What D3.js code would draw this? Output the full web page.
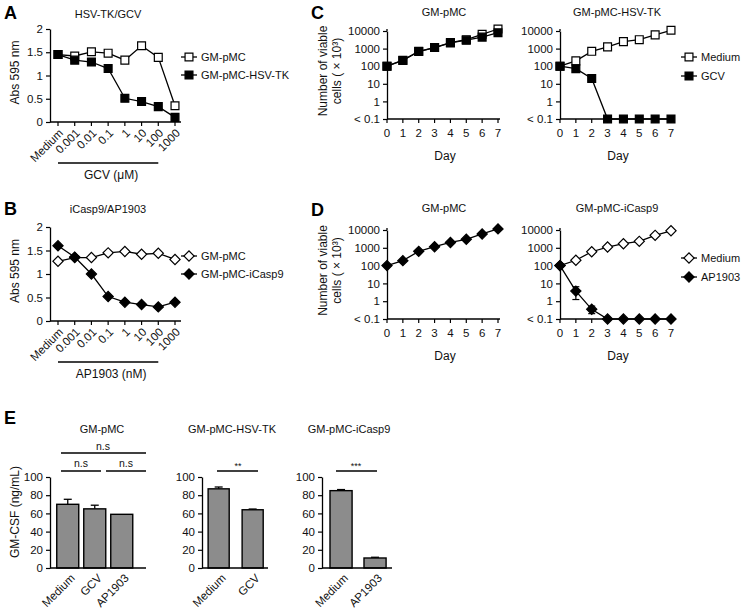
<!DOCTYPE html>
<html><head><meta charset="utf-8">
<script src="https://cdn.jsdelivr.net/npm/d3@7"></script>
<style>body{margin:0;background:#fff}</style>
</head><body><script>
// ---------------- DATA ----------------
const doseLabels = ["Medium","0.001","0.01","0.1","1","10","100","1000"];
const aPMC  = [1.45,1.42,1.51,1.48,1.33,1.64,1.39,0.35];
const aTK   = [1.45,1.33,1.29,1.15,0.51,0.44,0.33,0.10];
const bPMC  = [1.27,1.35,1.35,1.45,1.48,1.42,1.44,1.31];
const bIC9  = [1.60,1.36,1.00,0.52,0.40,0.35,0.30,0.40];
const absTicks = [0,0.5,1,1.5,2];

const days = [0,1,2,3,4,5,6,7];
const logTicks = [0.1,1,10,100,1000,10000];
const cPMCMedium = [100,220,700,1150,2200,3200,6500,13000];
const cPMCGCV    = [100,210,680,1150,2100,3000,4500,8000];
const cTKMedium  = [100,200,700,1250,2500,3200,6000,11000];
const cTKGCV     = [100,72,20,0.1,0.1,0.1,0.1,0.1];
const dPMC       = [100,190,630,1150,2000,3000,6000,11500];
const dIC9Medium = [100,200,600,1100,1700,2300,5000,9000];
const dIC9AP     = [100,3.7,0.35,0.1,0.1,0.1,0.1,0.1];
const dIC9APlo   = [null,1.24,0.2,null,null,null,null,null];
const dIC9APhi   = [null,6.5,0.53,null,null,null,null,null];

const eTicks = [0,20,40,60,80,100];
const e1Cats = ["Medium","GCV","AP1903"]; const e1Vals = [70,65,59]; const e1Err = [5.5,4,0.3];
const e2Cats = ["Medium","GCV"];          const e2Vals = [87,64];    const e2Err = [2,0.8];
const e3Cats = ["Medium","AP1903"];       const e3Vals = [85,11];    const e3Err = [1.2,0.8];

// ---------------- SETUP ----------------
const FONT = "'Liberation Sans', Arial, Helvetica, sans-serif";
const svg = d3.select("body").append("svg").attr("width",744).attr("height",615)
  .style("font-family",FONT);
const TICK_FS = 11.5, TITLE_FS = 11, LEG_FS = 11, LAB_FS = 12, LETTER_FS = 18;
const TXT = "#111";

function text(x,y,s,opts={}){
  const t = svg.append("text").attr("x",x).attr("y",y).text(s)
    .attr("font-size",opts.fs||TITLE_FS).attr("text-anchor",opts.anchor||"middle")
    .attr("dominant-baseline","central").attr("fill",opts.bold?"#000":TXT);
  if(opts.bold) t.attr("font-weight","bold");
  if(opts.rot) t.attr("transform",`rotate(${opts.rot},${x},${y})`);
  return t;
}
function line(x1,y1,x2,y2,w=1.3){
  svg.append("line").attr("x1",x1).attr("y1",y1).attr("x2",x2).attr("y2",y2)
    .attr("stroke","#000").attr("stroke-width",w);
}
function yAxis(x, scale, ticks, fmt){
  const g = svg.append("g").attr("transform",`translate(${x},0)`)
    .call(d3.axisLeft(scale).tickValues(ticks).tickFormat(fmt).tickSize(4).tickSizeOuter(0).tickPadding(3));
  g.attr("font-family",FONT).attr("font-size",TICK_FS);
  g.select(".domain").attr("stroke-width",1.3);
  g.selectAll(".tick line").attr("stroke-width",1.2);
  g.selectAll(".tick text").attr("fill",TXT);
  return g;
}
const sqPath = d3.symbol().type(d3.symbolSquare).size(62)();
const dmPath = d3.symbol().type(d3.symbolSquare).size(52)();
function marker(x,y,shape,filled){
  svg.append("path").attr("d", shape==="diamond"?dmPath:sqPath)
    .attr("transform",`translate(${x},${y})` + (shape==="diamond"?" rotate(45)":""))
    .attr("fill",filled?"#000":"#fff").attr("stroke","#000").attr("stroke-width",1.2);
}
function series(xs, ys, xv, yv, shape, filled){
  svg.append("path").datum(yv)
    .attr("d", d3.line().x((d,i)=>xs(xv[i])).y(d=>ys(d)))
    .attr("fill","none").attr("stroke","#000").attr("stroke-width",1.3);
  yv.forEach((d,i)=>marker(xs(xv[i]), ys(d), shape, filled));
}
function legend(x,y,shape,filled,label){
  line(x-8,y,x+8,y,1.3);
  marker(x,y,shape,filled);
  text(x+12,y,label,{fs:LEG_FS,anchor:"start"});
}

// ---------------- PANELS A & B ----------------
function dosePanel(top, bottom, v1, v2, shape, title, titleY, bracketLabel, leg, legNames){
  const xs = d3.scalePoint().domain(doseLabels).range([58,175]);
  const ys = d3.scaleLinear().domain([0,2]).range([bottom, top]);
  yAxis(50, ys, absTicks, d=>String(d));
  line(50,bottom,181,bottom);
  doseLabels.forEach(d=>{
    line(xs(d),bottom,xs(d),bottom+4,1.2);
    svg.append("text").text(d).attr("font-size",TICK_FS).attr("text-anchor","end")
      .attr("dominant-baseline","central").attr("fill",TXT)
      .attr("transform",`translate(${xs(d)+3},${bottom+9}) rotate(-45)`);
  });
  const bx1 = xs(doseLabels[0]), bx2 = xs(doseLabels[6]);
  line(bx1, bottom+41, bx2, bottom+41, 1.3);
  text((bx1+bx2)/2+3, bottom+53, bracketLabel, {fs:LAB_FS});
  text(15,(top+bottom)/2-3,"Abs 595 nm",{fs:LAB_FS,rot:-90});
  series(xs, ys, doseLabels, v1, shape, false);
  series(xs, ys, doseLabels, v2, shape, true);
  text(108,titleY,title,{fs:TITLE_FS});
  legend(189, leg[0], shape, false, legNames[0]);
  legend(189, leg[1], shape, true, legNames[1]);
}
text(4,13,"A",{fs:LETTER_FS,bold:true,anchor:"start"});
dosePanel(29,122,aPMC,aTK,"square","HSV-TK/GCV",14,"GCV (μM)",[57,75],["GM-pMC","GM-pMC-HSV-TK"]);
text(4,209,"B",{fs:LETTER_FS,bold:true,anchor:"start"});
dosePanel(227,321,bPMC,bIC9,"diamond","iCasp9/AP1903",209,"AP1903 (nM)",[256,274],["GM-pMC","GM-pMC-iCasp9"]);

// ---------------- PANELS C & D ----------------
function logPanel(x0, top, bottom, title, titleY, list, errs){
  const xs = d3.scaleLinear().domain([0,7]).range([x0, x0+111]);
  const ys = d3.scaleLog().domain([0.1,10000]).range([bottom, top]);
  yAxis(x0, ys, logTicks, d=> d===0.1 ? "< 0.1" : String(d));
  line(x0,top,x0,top-2,1.3);
  line(x0,bottom,x0+113,bottom);
  days.forEach(d=>{
    line(xs(d),bottom,xs(d),bottom+4,1.2);
    text(xs(d),bottom+14,String(d),{fs:TICK_FS});
  });
  text(x0+58,bottom+37,"Day",{fs:LAB_FS});
  text(x0+57,titleY,title,{fs:TITLE_FS});
  if(errs){
    errs.lo.forEach((lo,i)=>{
      if(lo==null) return;
      const hi = errs.hi[i], x = xs(days[i]);
      line(x, ys(lo), x, ys(hi), 1.2);
      line(x-3.5, ys(lo), x+3.5, ys(lo), 1.2);
      line(x-3.5, ys(hi), x+3.5, ys(hi), 1.2);
    });
  }
  list.forEach(s=>series(xs, ys, days, s.v, s.shape, s.filled));
}
function logYLabel(top,bottom){
  const cy = (top+bottom)/2 - 4;
  text(323,cy,"Number of viable",{fs:LAB_FS,rot:-90});
  text(337,cy,"cells ( × 10³)",{fs:LAB_FS,rot:-90});
}
text(311,13,"C",{fs:LETTER_FS,bold:true,anchor:"start"});
logYLabel(31,119);
logPanel(387,31,119,"GM-pMC",12,[{v:cPMCMedium,shape:"square",filled:false},{v:cPMCGCV,shape:"square",filled:true}]);
logPanel(560,31,119,"GM-pMC-HSV-TK",12,[{v:cTKMedium,shape:"square",filled:false},{v:cTKGCV,shape:"square",filled:true}]);
legend(689,57,"square",false,"Medium");
legend(689,76,"square",true,"GCV");

text(311,210,"D",{fs:LETTER_FS,bold:true,anchor:"start"});
logYLabel(230,319);
logPanel(387,230,319,"GM-pMC",208,[{v:dPMC,shape:"diamond",filled:true}]);
logPanel(560,230,319,"GM-pMC-iCasp9",208,[{v:dIC9Medium,shape:"diamond",filled:false},{v:dIC9AP,shape:"diamond",filled:true}],
  {lo:dIC9APlo, hi:dIC9APhi});
legend(689,258,"diamond",false,"Medium");
legend(689,277,"diamond",true,"AP1903");

// ---------------- PANEL E ----------------
const eTop = 477, eBot = 568;
function barPanel(axisX, axisEnd, cats, vals, errs, pi, po, step, title, titleX){
  const n = cats.length;
  const xs = d3.scaleBand().domain(cats).paddingInner(pi).paddingOuter(po)
    .range([axisX, axisX + (n - pi + 2*po)*step]);
  const ys = d3.scaleLinear().domain([0,100]).range([eBot,eTop]);
  yAxis(axisX, ys, eTicks, d=>String(d));
  cats.forEach((c,i)=>{
    const bx = xs(c), bw = xs.bandwidth(), cx = bx+bw/2;
    if(errs[i]>0.5){
      line(cx, ys(vals[i]), cx, ys(vals[i]+errs[i]), 1.3);
      line(cx-4, ys(vals[i]+errs[i]), cx+4, ys(vals[i]+errs[i]), 1.3);
    }
    svg.append("rect").attr("x",bx).attr("y",ys(vals[i])).attr("width",bw).attr("height",eBot-ys(vals[i]))
      .attr("fill","#8c8c8c").attr("stroke","#000").attr("stroke-width",1.4);
    svg.append("text").text(c).attr("font-size",TICK_FS).attr("text-anchor","end")
      .attr("dominant-baseline","central").attr("fill",TXT)
      .attr("transform",`translate(${cx+5},${eBot+8}) rotate(-45)`);
  });
  line(axisX,eBot,axisEnd,eBot,1.4);
  text(titleX,429,title,{fs:TITLE_FS});
  return xs;
}
text(4,418,"E",{fs:LETTER_FS,bold:true,anchor:"start"});
text(15,512,"GM-CSF (ng/mL)",{fs:LAB_FS,rot:-90});
barPanel(50,146,e1Cats,e1Vals,e1Err,0.185,0.25,27,"GM-pMC",102);
barPanel(202,268,e2Cats,e2Vals,e2Err,0.38,0.18,34,"GM-pMC-HSV-TK",232);
barPanel(322,392,e3Cats,e3Vals,e3Err,0.35,0.235,34,"GM-pMC-iCasp9",349);
// significance
line(61,453,146,453,1.5); text(103,446,"n.s",{fs:10.5});
line(61,471,101,471,1.5); text(81,463,"n.s",{fs:10.5});
line(106,471,146,471,1.5); text(126,463,"n.s",{fs:10.5});
line(217,471,258,471,1.5); text(238,466,"**",{fs:9});
line(336,471,377,471,1.5); text(356,466,"***",{fs:9});
</script></body></html>
